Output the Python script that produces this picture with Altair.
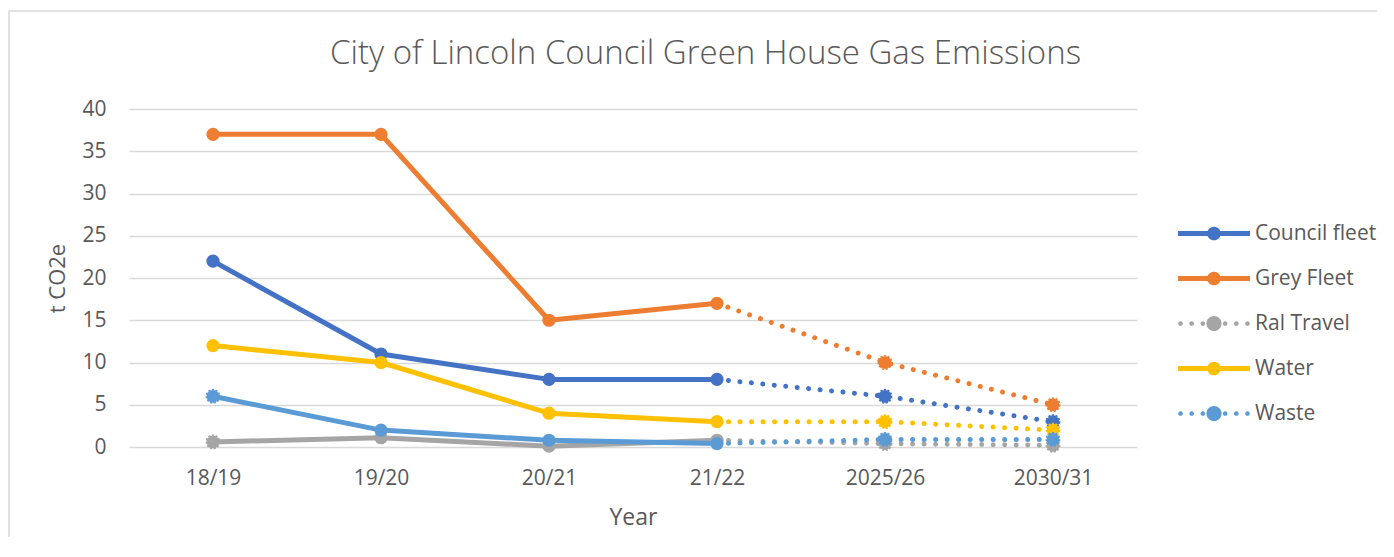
import altair as alt
import pandas as pd

years = ["18/19", "19/20", "20/21", "21/22", "2025/26", "2030/31"]
series = ["Council fleet", "Grey Fleet", "Ral Travel", "Water", "Waste"]
council_fleet = [22, 11, 8, 8, 6, 3]
grey_fleet = [37, 37, 15, 17, 10, 5]
ral_travel = [0.6, 1.1, 0.1, 0.8, 0.4, 0.2]
water = [12, 10, 4, 3, 3, 2]
waste = [6, 2, 0.8, 0.4, 0.9, 0.9]
colors = ["#4472C4", "#ED7D31", "#A5A5A5", "#FFC000", "#5B9BD5"]

title_text = "City of Lincoln Council Green House Gas Emissions"
FONT = "Open Sans"
TXT = "#595959"

values = {
    "Council fleet": council_fleet,
    "Grey Fleet": grey_fleet,
    "Ral Travel": ral_travel,
    "Water": water,
    "Waste": waste,
}
rows = []
for s in series:
    for i, yr in enumerate(years):
        rows.append({"series": s, "year": yr, "value": values[s][i], "idx": i})
df = pd.DataFrame(rows)
df["jagged"] = (df["idx"] >= 4) | ((df["idx"] == 0) & df["series"].isin(["Ral Travel", "Waste"]))

W, H = 1008, 338


def circ(cx, r):
    return (f"M{cx + r:.3f},0 A{r:.3f},{r:.3f} 0 1 1 {cx - r:.3f},0 "
            f"A{r:.3f},{r:.3f} 0 1 1 {cx + r:.3f},0 Z")


solid_sym = "M-1,-0.07 L1,-0.07 L1,0.07 L-1,0.07 Z " + circ(0, 0.19)
dotted_sym = " ".join(circ(c, 0.065) for c in [-0.93, -0.62, -0.31, 0.31, 0.62, 0.93]) + " " + circ(0, 0.21)
shape_range = [solid_sym, solid_sym, dotted_sym, solid_sym, dotted_sym]

x_enc = alt.X(
    "year:N", sort=years,
    scale=alt.Scale(type="point", padding=0.5, domain=years),
    axis=alt.Axis(
        title="Year", labelAngle=0, labelFont=FONT, labelFontSize=21, labelColor=TXT,
        labelPadding=20, ticks=False, domain=False, grid=False,
        titleFont=FONT, titleFontSize=23, titleFontWeight="normal", titleColor=TXT,
        titleX=W / 2, titleY=70, titleBaseline="middle",
    ),
)
y_enc = alt.Y(
    "value:Q",
    scale=alt.Scale(domain=[0, 40], nice=False),
    axis=alt.Axis(
        values=list(range(0, 41, 5)), title="t CO2e", labelFont=FONT, labelFontSize=21,
        labelColor=TXT, labelPadding=23, ticks=False, domain=False,
        grid=True, gridColor="#d9d9d9", gridWidth=1.3,
        titleFont=FONT, titleFontSize=22, titleFontWeight="normal", titleColor=TXT,
        titleAngle=270, titleX=-72, titleY=H / 2, titleBaseline="middle",
    ),
)
col = alt.Color("series:N", scale=alt.Scale(domain=series, range=colors), legend=None)

base = alt.Chart(df)

solid_lines = base.transform_filter("datum.idx <= 3").mark_line(
    strokeWidth=5, strokeCap="round", strokeJoin="round"
).encode(x=x_enc, y=y_enc, color=col)

dotted_lines = base.transform_filter("datum.idx >= 3").mark_line(
    strokeWidth=5, strokeCap="round", strokeDash=[0.01, 11.5]
).encode(x=x_enc, y=y_enc, color=col)

round_pts = base.transform_filter("!datum.jagged").mark_point(
    filled=True, size=175, opacity=1
).encode(x=x_enc, y=y_enc, color=col)

jag_pts = base.transform_filter("datum.jagged").mark_point(
    filled=True, size=160, opacity=1, strokeWidth=2.2, strokeDash=[2, 1.5]
).encode(
    x=x_enc, y=y_enc, color=col,
    stroke=alt.Stroke("series:N", scale=alt.Scale(domain=series, range=colors), legend=None),
)

leg = alt.Legend(
    title=None, orient="none", legendX=1049, legendY=102,
    symbolSize=5184, clipHeight=45, rowPadding=0,
    labelFont=FONT, labelFontSize=21, labelColor=TXT, labelOffset=5,
    symbolStrokeWidth=0, symbolOpacity=1,
)
legend_layer = base.mark_point(filled=True, opacity=0, size=0).encode(
    x=x_enc, y=y_enc,
    fill=alt.Fill("series:N", scale=alt.Scale(domain=series, range=colors), legend=leg),
    shape=alt.Shape("series:N", scale=alt.Scale(domain=series, range=shape_range), legend=leg),
)

frame_src = alt.Chart(alt.Data(values=[{"t": title_text}]))
border = frame_src.mark_rect(fillOpacity=0, stroke="#d9d9d9", strokeWidth=1.5).encode(
    x=alt.value(-120), x2=alt.value(2000), y=alt.value(-98), y2=alt.value(2000)
)
title = frame_src.mark_text(
    font=FONT, fontSize=33, fontWeight=300, color=TXT, align="center", baseline="alphabetic"
).encode(text="t:N", x=alt.value(576.5), y=alt.value(-45))

chart = alt.layer(
    border, legend_layer, solid_lines, dotted_lines, round_pts, jag_pts, title
).properties(
    width=W, height=H,
    autosize=alt.AutoSizeParams(type="none"),
    padding={"left": 121, "top": 101, "right": 240, "bottom": 90},
).configure_view(strokeWidth=0)

chart.save("out.html", embed_options={"renderer": "svg", "actions": False})
